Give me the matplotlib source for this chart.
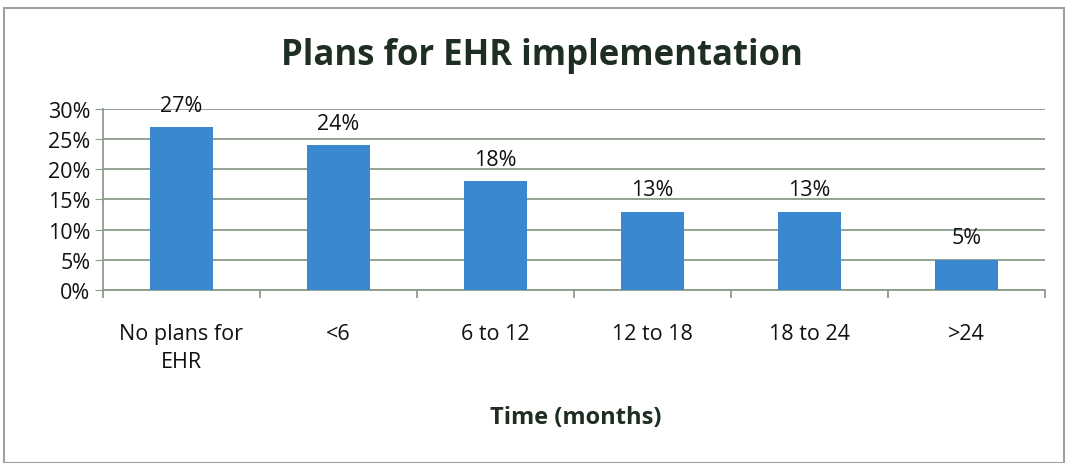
import matplotlib.pyplot as plt
from matplotlib.patches import Rectangle

categories = ["No plans for\nEHR", "<6", "6 to 12", "12 to 18", "18 to 24", ">24"]
values = [27, 24, 18, 13, 13, 5]
yticks = [0, 5, 10, 15, 20, 25, 30]

plt.rcParams['font.family'] = ['Open Sans', 'DejaVu Sans']

fig = plt.figure(figsize=(10.66, 4.64), dpi=100)
ax = fig.add_axes([0.0966, 0.373, 0.8834, 0.39])

grid_col = "#8c9c8c"
ax.bar(range(len(values)), values, width=0.4, color="#3a89d0", zorder=3)
for i, v in enumerate(values):
    ax.text(i, v + 1.9, f"{v}%", ha="center", va="bottom", fontsize=15.5, color="#111111", zorder=4)

ax.set_xlim(-0.5, len(values) - 0.5)
ax.set_ylim(0, 30)
ax.set_yticks(yticks)
ax.set_yticklabels([f"{t}%" for t in yticks], fontsize=15.5, color="#111111")
ax.yaxis.grid(True, color=grid_col, linewidth=1.3, zorder=0)
ax.tick_params(axis="y", length=6, color=grid_col, pad=3)

ax.set_xticks(range(len(values)))
ax.set_xticklabels(categories, fontsize=15.5, color="#111111", linespacing=1.45)
ax.tick_params(axis="x", length=0, pad=24)
ax.set_xticks([i - 0.5 for i in range(len(values) + 1)], minor=True)
ax.tick_params(axis="x", which="minor", length=6, color=grid_col, width=1.3)

for s in ["top", "right"]:
    ax.spines[s].set_visible(False)
for s in ["left", "bottom"]:
    ax.spines[s].set_color(grid_col)
    ax.spines[s].set_linewidth(1.3)

fig.text(0.508, 0.88, "Plans for EHR implementation", ha="center", va="center",
         fontsize=25, fontweight="bold", color="#1e2e22")
fig.text(0.54, 0.10, "Time (months)", ha="center", va="center",
         fontsize=17, fontweight="bold", color="#1e2e22")

fig.patches.append(Rectangle((0.004, 0.0), 0.994, 0.98, transform=fig.transFigure,
                             fill=False, edgecolor="#9aa59a", linewidth=1.5))

fig.savefig("out.png", dpi=100)
